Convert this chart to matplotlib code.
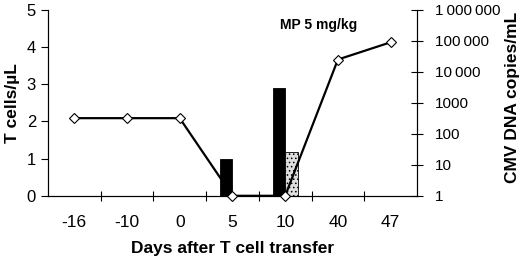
import matplotlib
matplotlib.use("Agg")
import matplotlib.pyplot as plt
import numpy as np

days = ['-16', '-10', '0', '5', '10', '40', '47']
t_cells_black = [0, 0, 0, 1.0, 2.9, 0, 0]
t_cells_gray = [0, 0, 0, 0, 1.18, 0, 0]
cmv_copies = [320, 320, 320, 1, 1, 25000, 90000]
right_ticks = [1, 10, 100, 1000, 10000, 100000, 1000000]
right_labels = ['1', '10', '100', '1000', '10\u2009000', '100\u2009000', '1\u2009000\u2009000']

plt.rcParams['font.family'] = ['Liberation Sans', 'DejaVu Sans']
plt.rcParams['hatch.color'] = '#8a8a8a'
plt.rcParams['hatch.linewidth'] = 0.6

fig = plt.figure(figsize=(5.2, 2.6), dpi=100)
ax = fig.add_axes([0.092, 0.247, 0.71, 0.715])
x = np.arange(len(days))
w = 0.24
ax.bar(x - w / 2, t_cells_black, width=w, color='black', edgecolor='black', linewidth=0.6, zorder=2)
ax.bar(x + w / 2, t_cells_gray, width=w, color='#dedede', edgecolor='black', linewidth=0.6,
       hatch='....', zorder=2)
ax.set_ylim(0, 5)
ax.set_xlim(-0.5, len(days) - 0.5)
ax.set_yticks([0, 1, 2, 3, 4, 5])
ax.tick_params(axis='y', direction='out', length=5, labelsize=12, width=0.8)
ax.set_xticks(np.arange(len(days) - 1) + 0.5, minor=True)
ax.set_xticks(x)
ax.set_xticklabels(days)
ax.tick_params(axis='x', which='major', length=0, labelsize=12.5, pad=14)
ax.tick_params(axis='x', which='minor', direction='inout', length=7, width=0.8)
ax.spines['top'].set_visible(False)
ax.set_ylabel('T cells/\u00b5L', fontsize=12.5, fontweight='bold', labelpad=5)
ax.set_xlabel('Days after T cell transfer', fontsize=12.5, fontweight='bold', labelpad=8)

ax2 = ax.twinx()
ax2.set_yscale('log')
ax2.set_ylim(1, 1e6)
ax2.plot(x, cmv_copies, color='black', linewidth=1.6, marker='D', markersize=5,
         markerfacecolor='white', markeredgecolor='black', markeredgewidth=0.8, clip_on=False, zorder=3)
ax2.set_yticks(right_ticks)
ax2.set_yticklabels(right_labels)
ax2.yaxis.set_minor_locator(matplotlib.ticker.NullLocator())
ax2.tick_params(axis='y', direction='inout', length=8, labelsize=11, width=0.8, pad=9)
ax2.spines['top'].set_visible(False)
ax2.set_ylabel('CMV DNA copies/mL', fontsize=12.5, fontweight='bold')
ax2.yaxis.set_label_coords(1.238, 0.53)
ax2.text(0.734, 0.919, 'MP 5 mg/kg', transform=ax2.transAxes, fontsize=10, fontweight='bold',
         ha='center', va='center')

fig.savefig('out.png', dpi=100)
